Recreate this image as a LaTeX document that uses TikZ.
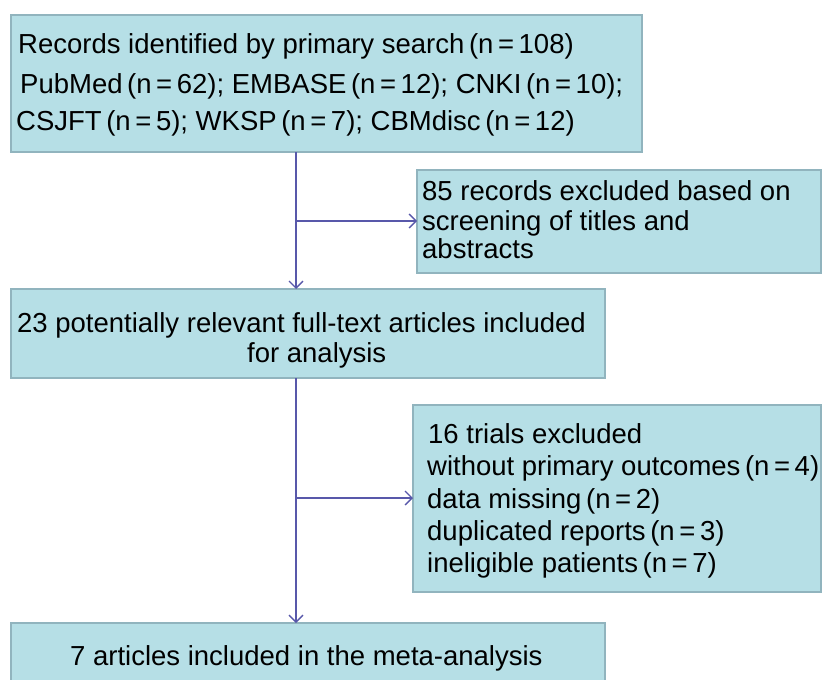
\documentclass[tikz,border=0pt]{standalone}
\usepackage{fontspec}
\setmainfont{Liberation Sans}
\usetikzlibrary{arrows.meta}
\definecolor{boxfill}{RGB}{182,223,230}
\definecolor{boxline}{RGB}{145,180,190}
\definecolor{arrowcol}{RGB}{88,88,170}
\tikzset{
  box/.style={draw=boxline, fill=boxfill, line width=1.4pt, inner sep=0pt, outer sep=0pt, anchor=north west},
  txt/.style={anchor=base west, inner sep=0pt, font=\fontsize{27.5}{33}\selectfont},
  conn/.style={draw=arrowcol, line width=1.3pt},
  arr/.style={conn, -{Straight Barb[length=7pt,width=14pt,line width=1.3pt]}},
}
\begin{document}
\begin{tikzpicture}[x=1pt,y=-1pt]
\useasboundingbox (0,0) rectangle (822,680);
% boxes
\node[box, minimum width=631pt, minimum height=137pt] (b1) at (11,15) {};
\node[box, minimum width=404pt, minimum height=103pt] (b2) at (417,170) {};
\node[box, minimum width=594pt, minimum height=89pt] (b3) at (11,289) {};
\node[box, minimum width=408pt, minimum height=187pt] (b4) at (413,405) {};
\node[box, minimum width=594pt, minimum height=80pt] (b5) at (11,623) {};
% junctions on the trunk
\coordinate (j1) at (296,221);
\coordinate (j2) at (296,498);
% texts
\node[txt] (t1a) at (18,53) {Records identified by primary search\,(n\,=\,108)};
\node[txt] (t1b) at (20,93) {PubMed\,(n\,=\,62); EMBASE\,(n\,=\,12); CNKI\,(n\,=\,10);};
\node[txt] (t1c) at (16,130) {CSJFT\,(n\,=\,5); WKSP\,(n\,=\,7); CBMdisc\,(n\,=\,12)};
\node[txt] (t2a) at (422,200) {85 records excluded based on};
\node[txt] (t2b) at (422,230) {screening of titles and};
\node[txt] (t2c) at (422,258) {abstracts};
\node[txt] (t3a) at (17,332) {23 potentially relevant full-text articles included};
\node[txt] (t3b) at (247,362) {for analysis};
\node[txt] (t4a) at (428,443) {16 trials excluded};
\node[txt] (t4b) at (427,475) {without primary outcomes\,(n\,=\,4)};
\node[txt] (t4c) at (427,508) {data missing\,(n\,=\,2)};
\node[txt] (t4d) at (427,540) {duplicated reports\,(n\,=\,3)};
\node[txt] (t4e) at (427,572) {ineligible patients\,(n\,=\,7)};
\node[txt] (t5a) at (70,665) {7 articles included in the meta-analysis};
% connectors
\draw[arr] (b1.south -| j1) -- (b3.north -| j1);
\draw[arr] (j1) -- (b2.west |- j1);
\draw[arr] (b3.south -| j2) -- (b5.north -| j2);
\draw[arr] (j2) -- (b4.west |- j2);
\end{tikzpicture}
\end{document}
